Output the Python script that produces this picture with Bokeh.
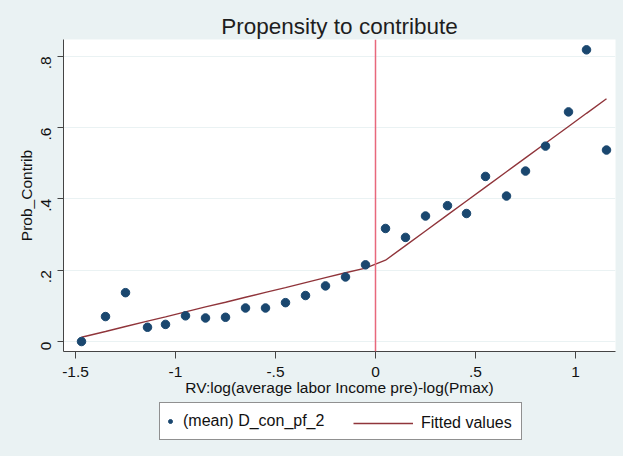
import math
from bokeh.plotting import figure
from bokeh.layouts import column
from bokeh.models import Range1d, FixedTicker, Legend, LegendItem, Span
from bokeh.embed import file_html
from bokeh.resources import INLINE

# Binned means
x_vals = [-1.47, -1.35, -1.25, -1.14, -1.05, -0.95, -0.85, -0.75, -0.65, -0.55,
          -0.45, -0.35, -0.25, -0.15, -0.05, 0.05, 0.15, 0.25, 0.36, 0.455,
          0.55, 0.655, 0.75, 0.85, 0.965, 1.055, 1.155]
y_vals = [0.0, 0.070, 0.137, 0.040, 0.048, 0.072, 0.066, 0.068, 0.094, 0.094,
          0.109, 0.129, 0.156, 0.181, 0.215, 0.317, 0.292, 0.352, 0.381, 0.359,
          0.463, 0.408, 0.478, 0.548, 0.644, 0.818, 0.537]
# Fitted values at the same x positions
fit_vals = [0.012, 0.028, 0.042, 0.057, 0.069, 0.083, 0.097, 0.110, 0.124, 0.138,
            0.151, 0.165, 0.179, 0.193, 0.206, 0.228, 0.269, 0.310, 0.355, 0.394,
            0.433, 0.476, 0.515, 0.556, 0.603, 0.640, 0.681]

x_ticks = [-1.5, -1.0, -0.5, 0.0, 0.5, 1.0]
x_tick_labels = ["-1.5", "-1", "-.5", "0", ".5", "1"]
y_ticks = [0.0, 0.2, 0.4, 0.6, 0.8]
y_tick_labels = ["0", ".2", ".4", ".6", ".8"]

FONT = "Liberation Sans"
BG = "#eaf2f3"
TXT = "#111111"
NAVY = "#1a476f"
MAROON = "#90353b"

p = figure(width=623, height=402, output_backend="svg", toolbar_location=None,
           x_range=Range1d(-1.56, 1.2), y_range=Range1d(-0.028, 0.847),
           min_border_left=63, min_border_right=8, min_border_top=39,
           min_border_bottom=51)
p.border_fill_color = BG
p.background_fill_color = "white"
p.outline_line_color = None

p.title.text = "Propensity to contribute"
p.title.align = "center"
p.title.text_font = FONT
p.title.text_font_size = "22.5px"
p.title.text_font_style = "normal"
p.title.text_color = "#1e1e1e"
p.title.standoff = 2

# axes
p.xaxis.ticker = FixedTicker(ticks=x_ticks)
p.xaxis.major_label_overrides = {t: l for t, l in zip(x_ticks, x_tick_labels)}
p.yaxis.ticker = FixedTicker(ticks=y_ticks)
p.yaxis.major_label_overrides = {t: l for t, l in zip(y_ticks, y_tick_labels)}
p.yaxis.major_label_orientation = math.pi / 2
p.xaxis.axis_label = "RV:log(average labor Income pre)-log(Pmax)"
p.yaxis.axis_label = "Prob_Contrib"
for ax in (p.xaxis, p.yaxis):
    ax.axis_line_color = "#444444"
    ax.major_tick_line_color = "#444444"
    ax.major_tick_in = 0
    ax.minor_tick_line_color = None
    ax.major_label_text_font = FONT
    ax.major_label_text_font_size = "15.5px"
    ax.major_label_text_color = TXT
    ax.axis_label_text_font = FONT
    ax.axis_label_text_font_size = "15.5px"
    ax.axis_label_text_font_style = "normal"
    ax.axis_label_text_color = TXT
p.xaxis.major_tick_out = 7
p.yaxis.major_tick_out = 6
p.xaxis.major_label_standoff = 8
p.yaxis.major_label_standoff = 11
p.xaxis.axis_label_standoff = -1
p.yaxis.axis_label_standoff = -1

p.xgrid.grid_line_color = None
p.ygrid.grid_line_color = BG
p.ygrid.grid_line_width = 1.2

p.add_layout(Span(location=0, dimension="height", line_color="#e8687c", line_width=1.5))

p.line(x_vals, fit_vals, line_color=MAROON, line_width=1.4)
p.scatter(x_vals, y_vals, size=8.5, fill_color=NAVY, line_color=NAVY)

# Legend strip below the chart (its frame is aligned with the chart's frame)
pl = figure(width=623, height=54, output_backend="svg", toolbar_location=None,
            x_axis_type=None, y_axis_type=None, min_border=0,
            x_range=Range1d(0, 1), y_range=Range1d(0, 1))
pl.border_fill_color = BG
pl.background_fill_color = BG
pl.outline_line_color = None
pl.xgrid.grid_line_color = None
pl.ygrid.grid_line_color = None
# proxies drawn outside the visible range, only used for legend glyphs
leg_pts = pl.scatter([5], [5], size=8.5, fill_color=NAVY, line_color=NAVY)
leg_fit = pl.line([5, 6], [5, 6], line_color=MAROON, line_width=1.4)

leg_a = Legend(items=[LegendItem(label="(mean) D_con_pf_2", renderers=[leg_pts])],
               location=(96, 16), orientation="horizontal",
               padding=5, glyph_width=10, glyph_height=26, label_standoff=8,
               label_width=333, label_height=26, margin=0, spacing=0,
               border_line_color="#222222", border_line_width=1,
               background_fill_color="white", background_fill_alpha=1,
               label_text_font=FONT, label_text_font_size="16px",
               label_text_color=TXT)
leg_b = Legend(items=[LegendItem(label="Fitted values", renderers=[leg_fit])],
               location=(290, 20), orientation="horizontal",
               padding=5, glyph_width=60, glyph_height=26, label_standoff=8,
               label_width=100, label_height=26, margin=0, spacing=0,
               border_line_color=None, background_fill_alpha=0,
               label_text_font=FONT, label_text_font_size="16px",
               label_text_color=TXT)
pl.add_layout(leg_a, "center")
pl.add_layout(leg_b, "center")

layout = column(p, pl, spacing=0, styles={"background-color": BG})
open("out.html", "w").write(file_html(layout, INLINE))
